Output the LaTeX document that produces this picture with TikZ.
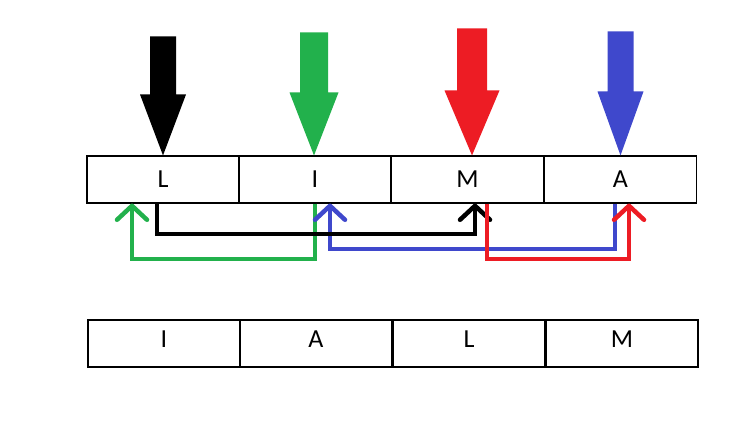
\documentclass[tikz,border=0pt]{standalone}
\usepackage{fontspec}
\setmainfont{Carlito}
\usetikzlibrary{arrows.meta,calc}
\definecolor{pgreen}{RGB}{34,177,76}
\definecolor{pred}{RGB}{237,28,36}
\definecolor{pblue}{RGB}{63,72,204}
\newcommand{\fatarrow}[6]{%
  \fill[#1] ($(#2)+(-#3,-#5)$) -- ($(#2)+(#3,-#5)$) -- ($(#2)+(#3,-#6)$) -- ($(#2)+(#4,-#6)$)
    -- (#2) -- ($(#2)+(-#4,-#6)$) -- ($(#2)+(-#3,-#6)$) -- cycle;}
\begin{document}
\begin{tikzpicture}[x=1pt,y=-1pt,
  cell/.style={draw, line width=1.1pt, minimum width=152pt, minimum height=47pt, inner sep=0pt,
    font=\fontsize{26}{30}\selectfont},
  link/.style={line width=4pt, -{Straight Barb[length=14pt,width=30pt,line width=4.5pt,round]}},
]
\useasboundingbox (0,0) rectangle (751,428);
% top row
\node[cell] (t1) at (163,179.5) {L};
\node[cell] (t2) at (315,179.5) {I};
\node[cell] (t3) at (467.5,179.5) {M};
\node[cell] (t4) at (620.5,179.5) {A};
% bottom row
\node[cell] (b1) at (164,343.5) {\raisebox{9pt}{I}};
\node[cell] (b2) at (316,343.5) {\raisebox{9pt}{A}};
\node[cell] (b3) at (469,343.5) {\raisebox{9pt}{L}};
\node[cell] (b4) at (622,343.5) {\raisebox{9pt}{M}};
% big arrows
\coordinate (k1) at (t1.north);
\coordinate (k2) at ($(t2.north)+(-1,0)$);
\coordinate (k3) at ($(t3.north)+(4.5,0)$);
\coordinate (k4) at (t4.north);
\fatarrow{black}{k1}{13}{23}{119}{61}
\fatarrow{pgreen}{k2}{14}{24.5}{123}{63}
\fatarrow{pred}{k3}{15}{27.5}{127}{65}
\fatarrow{pblue}{k4}{13}{23}{124}{64}
% connectors
\draw[link, pgreen] (t2.south) -- ++(0,55) -| ($(t1.south)+(-31,0)$);
\draw[link, pblue] ($(t4.south)+(-5.5,0)$) -- ++(0,45) -| ($(t2.south)+(15,0)$);
\draw[link, black] ($(t1.south)+(-6,0)$) -- ++(0,30) -| ($(t3.south)+(7.5,0)$);
\draw[link, pred] ($(t3.south)+(19.5,0)$) -- ++(0,55) -| ($(t4.south)+(8.5,0)$);
\end{tikzpicture}
\end{document}
